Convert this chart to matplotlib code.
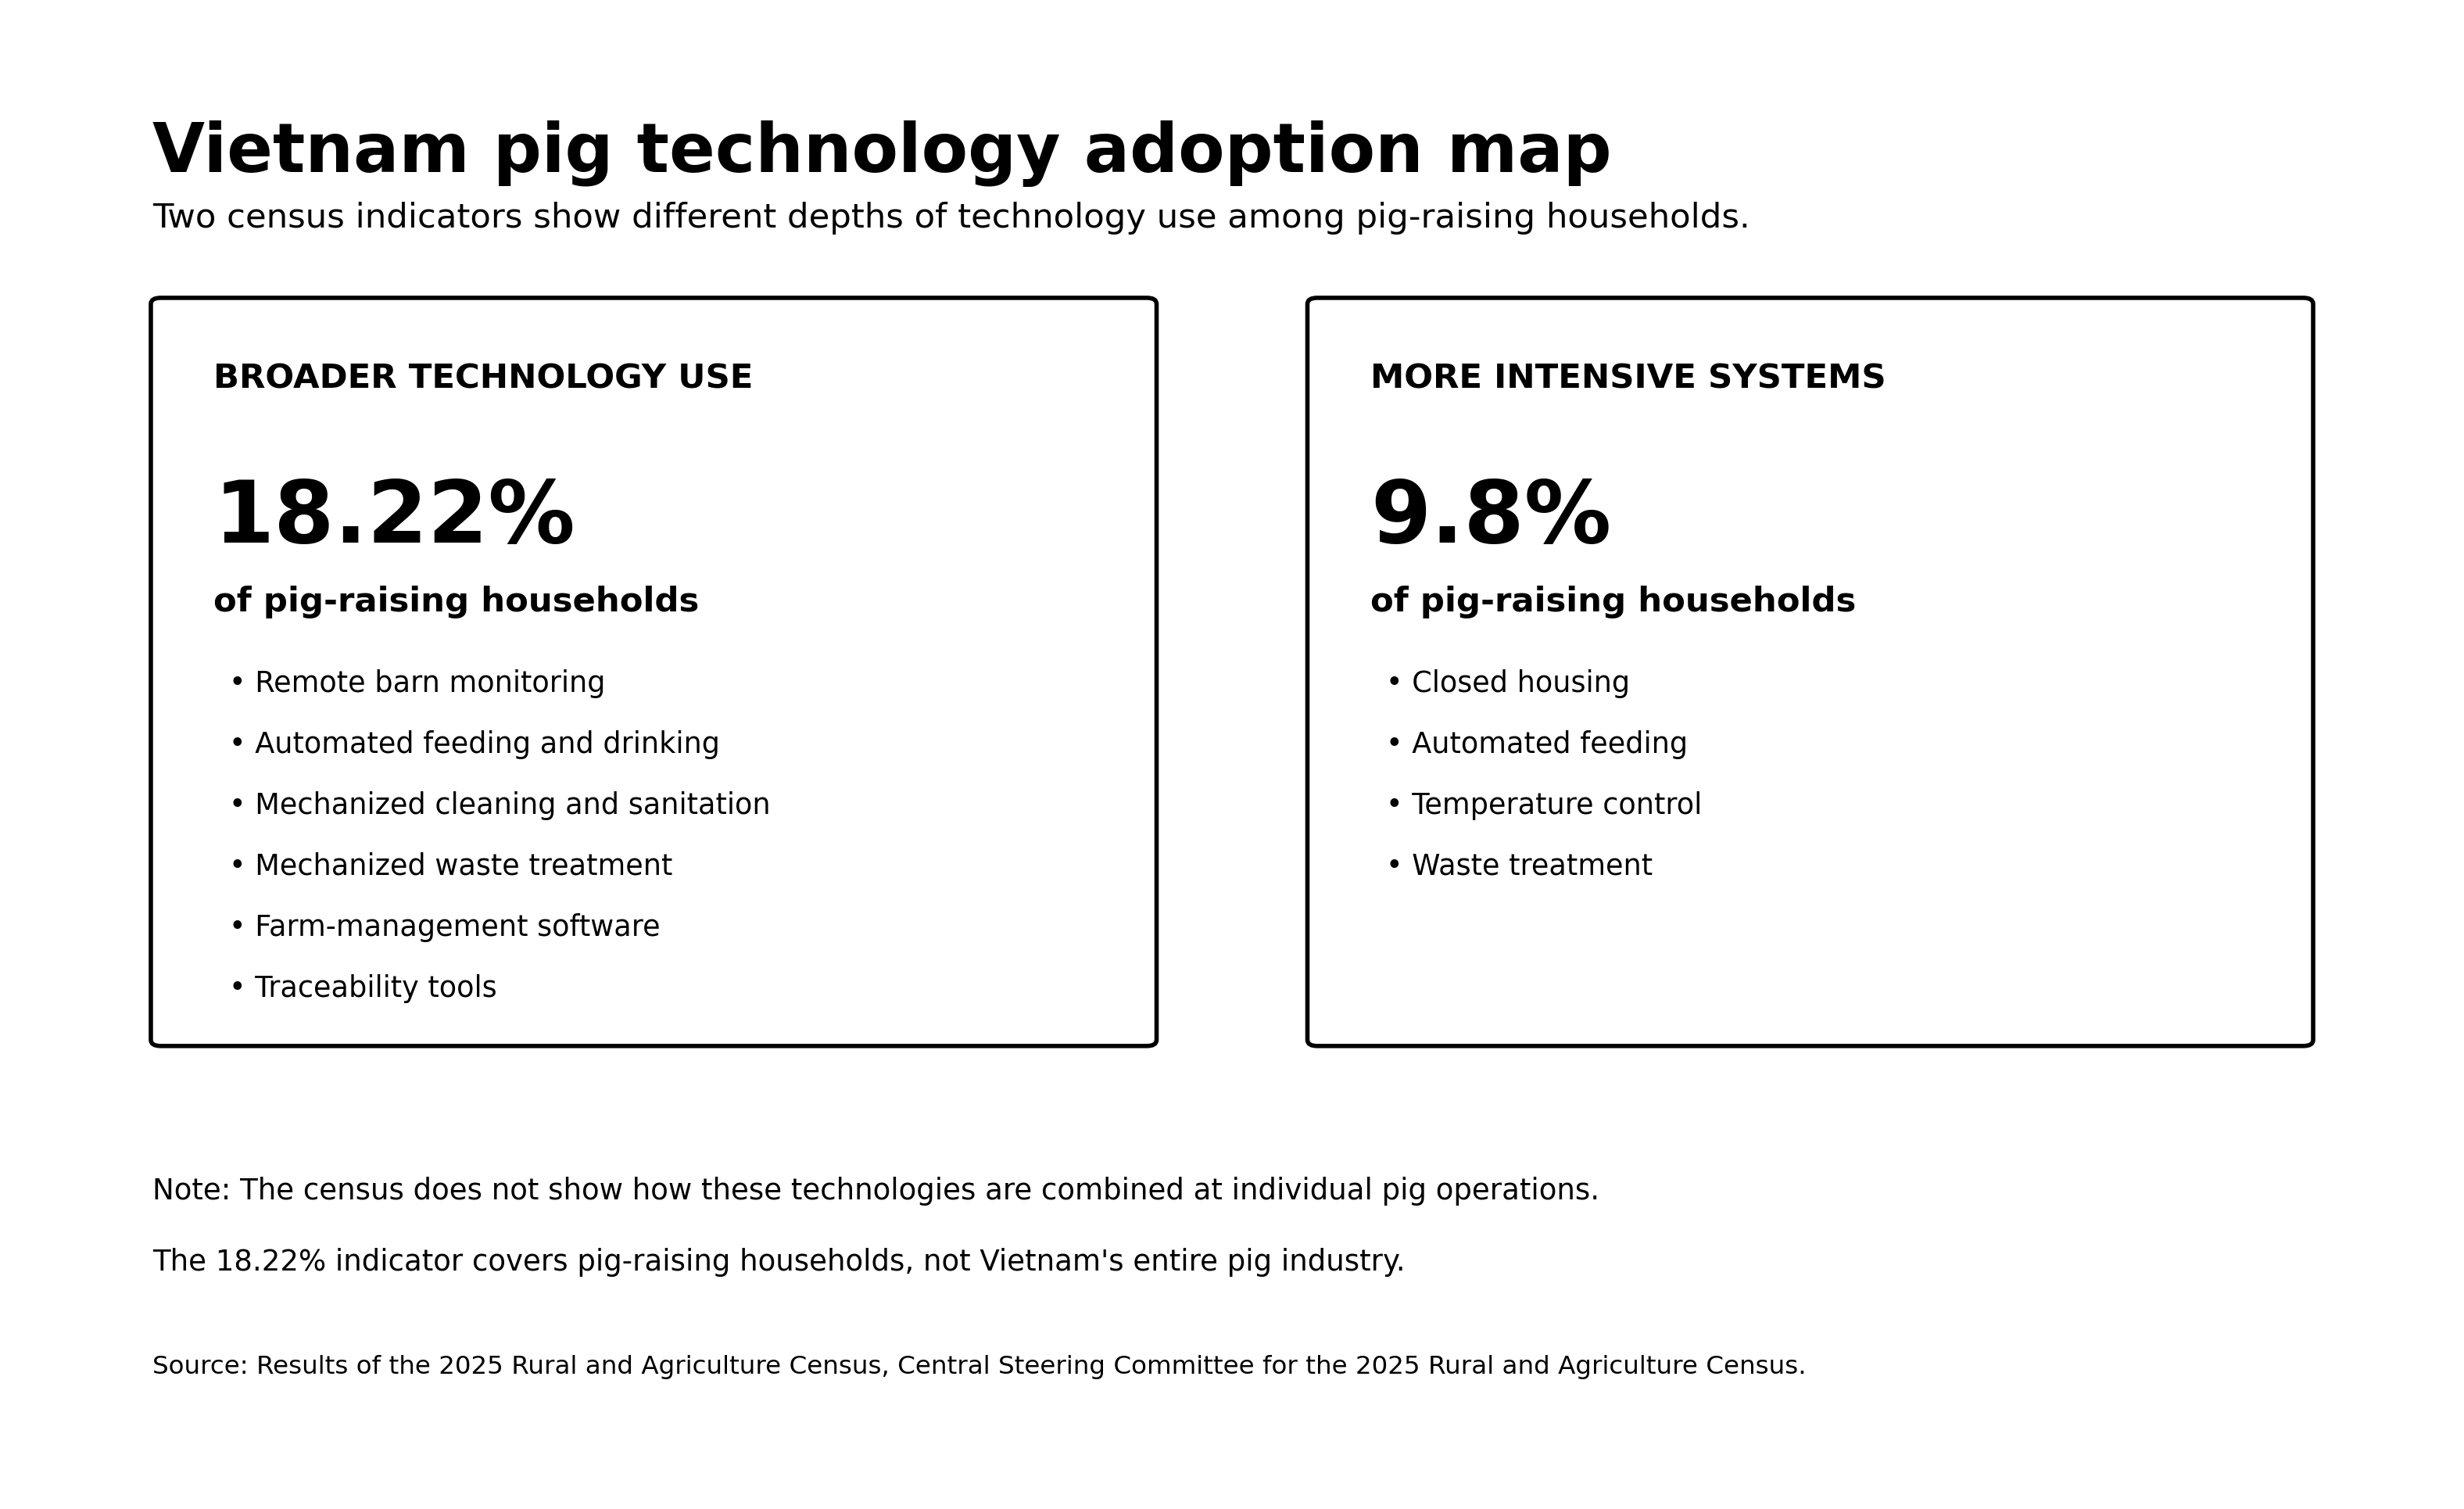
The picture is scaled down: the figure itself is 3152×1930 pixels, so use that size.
import matplotlib
matplotlib.use("Agg")
import matplotlib.pyplot as plt
from matplotlib.patches import FancyBboxPatch

title = "Vietnam pig technology adoption map"
subtitle = "Two census indicators show different depths of technology use among pig-raising households."

card_headers = ["BROADER TECHNOLOGY USE", "MORE INTENSIVE SYSTEMS"]
card_values = ["18.22%", "9.8%"]
card_units = ["of pig-raising households", "of pig-raising households"]
card_items = [
    ["Remote barn monitoring", "Automated feeding and drinking",
     "Mechanized cleaning and sanitation", "Mechanized waste treatment",
     "Farm-management software", "Traceability tools"],
    ["Closed housing", "Automated feeding", "Temperature control",
     "Waste treatment"],
]

notes = [
    "Note: The census does not show how these technologies are combined at individual pig operations.",
    "The 18.22% indicator covers pig-raising households, not Vietnam's entire pig industry.",
]
source = ("Source: Results of the 2025 Rural and Agriculture Census, Central Steering "
          "Committee for the 2025 Rural and Agriculture Census.")

W, H = 1568, 960.6  # layout grid in reference pixels (half scale)

fig = plt.figure(figsize=(15.76, 9.655), dpi=200)
fig.patch.set_facecolor("white")


def fx(x):
    return x / W


def fy(y):
    return 1 - y / H


fig.text(fx(97), fy(98), title, fontsize=31.2, fontweight="bold", va="center", ha="left")
fig.text(fx(97), fy(139), subtitle, fontsize=15.6, va="center", ha="left")

card_x = [96, 832]
card_w = 640
card_top, card_bot = 190, 666
for i in range(2):
    x0 = card_x[i]
    box = FancyBboxPatch((fx(x0), fy(card_bot)), fx(card_w), fy(card_top) - fy(card_bot),
                         boxstyle="round,pad=0,rounding_size=0.004",
                         transform=fig.transFigure, facecolor="white",
                         edgecolor="black", linewidth=2.0)
    fig.add_artist(box)
    tx = x0 + 40
    fig.text(fx(tx), fy(241), card_headers[i], fontsize=15.6, fontweight="bold",
             va="center", ha="left")
    fig.text(fx(tx), fy(330), card_values[i], fontsize=40, fontweight="bold",
             va="center", ha="left")
    fig.text(fx(tx), fy(383), card_units[i], fontsize=15.6, fontweight="bold",
             va="center", ha="left")
    for j, item in enumerate(card_items[i]):
        fig.text(fx(tx + 10), fy(435 + j * 38.8), "\u2022 " + item, fontsize=13.2,
                 va="center", ha="left")

fig.text(fx(97), fy(758), notes[0], fontsize=13.35, va="center", ha="left")
fig.text(fx(97), fy(803), notes[1], fontsize=13.35, va="center", ha="left")
fig.text(fx(97), fy(870), source, fontsize=11.7, va="center", ha="left")

fig.savefig("out.png", dpi=200, facecolor="white")
